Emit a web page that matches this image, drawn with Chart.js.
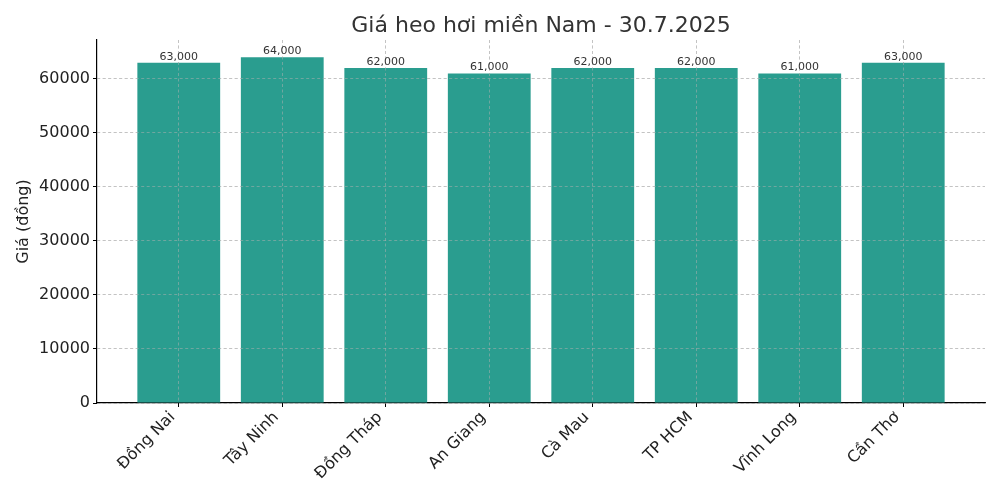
<!DOCTYPE html>
<html>
<head>
<meta charset="utf-8">
<script src="https://cdn.jsdelivr.net/npm/chart.js@4/dist/chart.umd.min.js"></script>
<style>
html,body{margin:0;padding:0;background:#fff;}
#wrap{width:1000px;height:500px;}
</style>
</head>
<body>
<div id="wrap"><canvas id="c" width="1000" height="500"></canvas></div>
<script>
const categories = ["Đồng Nai", "Tây Ninh", "Đồng Tháp", "An Giang", "Cà Mau", "TP HCM", "Vĩnh Long", "Cần Thơ"];
const prices = [63000, 64000, 62000, 61000, 62000, 62000, 61000, 63000];
const yTicks = [0, 10000, 20000, 30000, 40000, 50000, 60000];
const titleText = "Giá heo hơi miền Nam - 30.7.2025";
const yTitle = "Giá (đồng)";

const FONT = "'DejaVu Sans', sans-serif";
const gridColor = 'rgba(176,176,176,0.65)';

const valueLabels = {
  id: 'valueLabels',
  afterDatasetsDraw(chart) {
    const ctx = chart.ctx;
    ctx.save();
    chart.scales.x.drawGrid(chart.chartArea);
    chart.scales.y.drawGrid(chart.chartArea);
    ctx.restore();
    const meta = chart.getDatasetMeta(0);
    ctx.save();
    ctx.font = "11px " + FONT;
    ctx.fillStyle = '#333';
    ctx.textAlign = 'center';
    ctx.textBaseline = 'bottom';
    meta.data.forEach((bar, i) => {
      ctx.fillText(prices[i].toLocaleString('en-US'), bar.x, bar.y - 0.5);
    });
    ctx.restore();
  }
};

new Chart(document.getElementById('c'), {
  type: 'bar',
  data: {
    datasets: [{
      data: prices.map((v, i) => ({x: i, y: v})),
      backgroundColor: '#2a9d8f',
      borderWidth: 0,
      barPercentage: 0.8,
      categoryPercentage: 1.0
    }]
  },
  options: {
    responsive: false,
    animation: false,
    devicePixelRatio: 1,
    layout: {padding: {left: 0, right: 15, top: 0, bottom: 0}},
    plugins: {
      legend: {display: false},
      tooltip: {enabled: false},
      title: {
        display: true,
        text: titleText,
        fullSize: false,
        color: '#333',
        font: {family: FONT, size: 22, weight: 'normal', lineHeight: 1},
        padding: {top: 15, bottom: 3}
      }
    },
    scales: {
      x: {
        type: 'linear',
        offset: false,
        min: -0.79,
        max: 7.79,
        afterBuildTicks(scale) {
          scale.ticks = categories.map((_, i) => ({value: i}));
        },
        afterFit(scale) { scale.height = 97; },
        ticks: {
          autoSkip: false,
          maxRotation: 45,
          minRotation: 45,
          padding: 1,
          labelOffset: -6,
          color: '#222',
          font: {family: FONT, size: 16},
          callback: (v) => categories[v] !== undefined ? categories[v] : ''
        },
        grid: {
          offset: false,
          color: gridColor,
          lineWidth: 0.8,
          tickColor: '#000',
          tickLength: 4,
          tickWidth: 1,
          drawTicks: true
        },
        border: {display: true, color: '#000', width: 1.2, dash: [3, 2.5]}
      },
      y: {
        min: 0,
        max: 67200,
        afterBuildTicks(scale) {
          scale.ticks = yTicks.map(v => ({value: v}));
        },
        afterFit(scale) { scale.width = 97; },
        ticks: {
          includeBounds: false,
          padding: 3,
          color: '#222',
          font: {family: FONT, size: 16},
          callback: (v) => String(v)
        },
        title: {
          display: true,
          text: yTitle,
          color: '#222',
          font: {family: FONT, size: 16},
          padding: {top: 14, bottom: 0}
        },
        grid: {
          color: gridColor,
          lineWidth: 0.8,
          tickColor: '#000',
          tickLength: 4,
          tickWidth: 1
        },
        border: {display: true, color: '#000', width: 1.2, dash: [3, 2.5]}
      }
    }
  },
  plugins: [valueLabels]
});
</script>
</body>
</html>
